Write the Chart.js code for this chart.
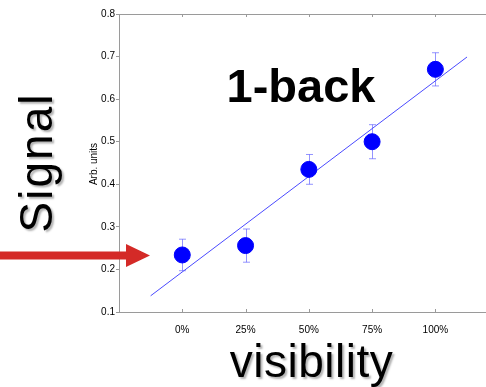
<!DOCTYPE html>
<html lang="en">
<head>
    <meta charset="UTF-8">
    <title>1-back signal vs visibility</title>
    <script src="https://cdn.jsdelivr.net/npm/chart.js"></script>
    <style>
        body {
            margin: 0;
            background: #fff;
        }
        .wrap {
            width: 486px;
            height: 387px;
        }
    </style>
</head>
<body>
    <div class="wrap"><canvas id="signalChart"></canvas></div>

    <script>
        // values
        const visibility = [0, 25, 50, 75, 100];
        const visibilityLabels = ['0%', '25%', '50%', '75%', '100%'];
        const signal = [0.234, 0.256, 0.435, 0.500, 0.670];
        const signalErr = [0.037, 0.039, 0.035, 0.040, 0.039];
        const fitX = [-12.5, 112.5];
        const fitY = [0.138, 0.699];
        const yTicks = [0.1, 0.2, 0.3, 0.4, 0.5, 0.6, 0.7, 0.8];

        const axisGrey = '#9a9a9a';
        const fontFamily = '"Liberation Sans", Arial, sans-serif';

        const extras = {
            id: 'extras',
            beforeDatasetsDraw(chart) {
                // error bars
                const c = chart.ctx, x = chart.scales.x, y = chart.scales.y;
                c.save();
                c.strokeStyle = 'rgba(90, 90, 255, 0.65)';
                c.lineWidth = 1;
                visibility.forEach((v, i) => {
                    const px = Math.round(x.getPixelForValue(v)) + 0.5;
                    const top = y.getPixelForValue(signal[i] + signalErr[i]);
                    const bot = y.getPixelForValue(signal[i] - signalErr[i]);
                    c.beginPath();
                    c.moveTo(px, top); c.lineTo(px, bot);
                    c.moveTo(px - 3.5, top); c.lineTo(px + 3.5, top);
                    c.moveTo(px - 3.5, bot); c.lineTo(px + 3.5, bot);
                    c.stroke();
                });
                c.restore();
            },
            afterDraw(chart) {
                const c = chart.ctx, a = chart.chartArea, x = chart.scales.x;
                c.save();
                // top frame line and inside ticks
                c.strokeStyle = axisGrey;
                c.lineWidth = 1;
                c.beginPath();
                c.moveTo(a.left, a.top + 0.5); c.lineTo(a.right, a.top + 0.5);
                visibility.forEach(v => {
                    const px = Math.round(x.getPixelForValue(v)) + 0.5;
                    c.moveTo(px, a.top); c.lineTo(px, a.top + 3);
                    c.moveTo(px, a.bottom); c.lineTo(px, a.bottom - 3);
                });
                c.stroke();

                // title inside plot
                c.fillStyle = '#000';
                c.font = 'bold 47px ' + fontFamily;
                c.textAlign = 'center';
                c.textBaseline = 'alphabetic';
                c.fillText('1-back', 301, 101.5);

                // small y label
                c.save();
                c.translate(97, 164);
                c.rotate(-Math.PI / 2);
                c.font = '10px ' + fontFamily;
                c.fillText('Arb. units', 0, 0);
                c.restore();

                // big labels with soft shadow
                c.shadowColor = 'rgba(0, 0, 0, 0.3)';
                c.shadowOffsetX = 2;
                c.shadowOffsetY = 2;
                c.shadowBlur = 2;
                c.font = '46px ' + fontFamily;

                c.save();
                c.translate(52, 162.5);
                c.rotate(-Math.PI / 2);
                c.letterSpacing = '2px';
                c.fillText('Signal', 0, 0);
                c.restore();

                c.letterSpacing = '0.5px';
                c.fillText('visibility', 311.5, 377);
                c.restore();

                // red arrow
                c.save();
                c.fillStyle = '#d42a27';
                c.beginPath();
                c.moveTo(0, 251.5);
                c.lineTo(126, 251.5);
                c.lineTo(126, 244);
                c.lineTo(150, 255.5);
                c.lineTo(126, 267);
                c.lineTo(126, 259.5);
                c.lineTo(0, 259.5);
                c.closePath();
                c.fill();
                c.restore();
            }
        };

        const ctx = document.getElementById('signalChart').getContext('2d');
        new Chart(ctx, {
            type: 'scatter',
            data: {
                datasets: [{
                    type: 'line',
                    data: fitX.map((v, i) => ({ x: v, y: fitY[i] })),
                    borderColor: '#4a4aff',
                    borderWidth: 1,
                    pointRadius: 0,
                    fill: false,
                    order: 2
                }, {
                    data: visibility.map((v, i) => ({ x: v, y: signal[i] })),
                    backgroundColor: '#0000ff',
                    borderColor: '#0000ff',
                    pointRadius: 8,
                    order: 1
                }]
            },
            options: {
                responsive: true,
                maintainAspectRatio: false,
                animation: false,
                layout: { autoPadding: false, padding: { top: 14, left: 0, right: 0, bottom: 0 } },
                plugins: {
                    legend: { display: false },
                    tooltip: { enabled: false }
                },
                scales: {
                    x: {
                        type: 'linear',
                        min: -25,
                        max: 120,
                        afterBuildTicks: s => { s.ticks = visibility.map(v => ({ value: v })); },
                        afterFit: s => { s.height = 75; },
                        ticks: {
                            callback: (v) => visibilityLabels[visibility.indexOf(v)],
                            color: '#000',
                            padding: 4,
                            maxRotation: 0,
                            font: { family: fontFamily, size: 10 }
                        },
                        grid: { display: false },
                        border: { display: true, color: axisGrey }
                    },
                    y: {
                        min: 0.1,
                        max: 0.8,
                        afterBuildTicks: s => { s.ticks = yTicks.map(v => ({ value: v })); },
                        afterFit: s => { s.width = 119; },
                        ticks: {
                            callback: v => v.toFixed(1),
                            color: '#000',
                            padding: 1,
                            font: { family: fontFamily, size: 10 }
                        },
                        grid: { drawOnChartArea: false, tickLength: 3, color: axisGrey },
                        border: { display: true, color: axisGrey }
                    }
                }
            },
            plugins: [extras]
        });
    </script>
</body>
</html>
